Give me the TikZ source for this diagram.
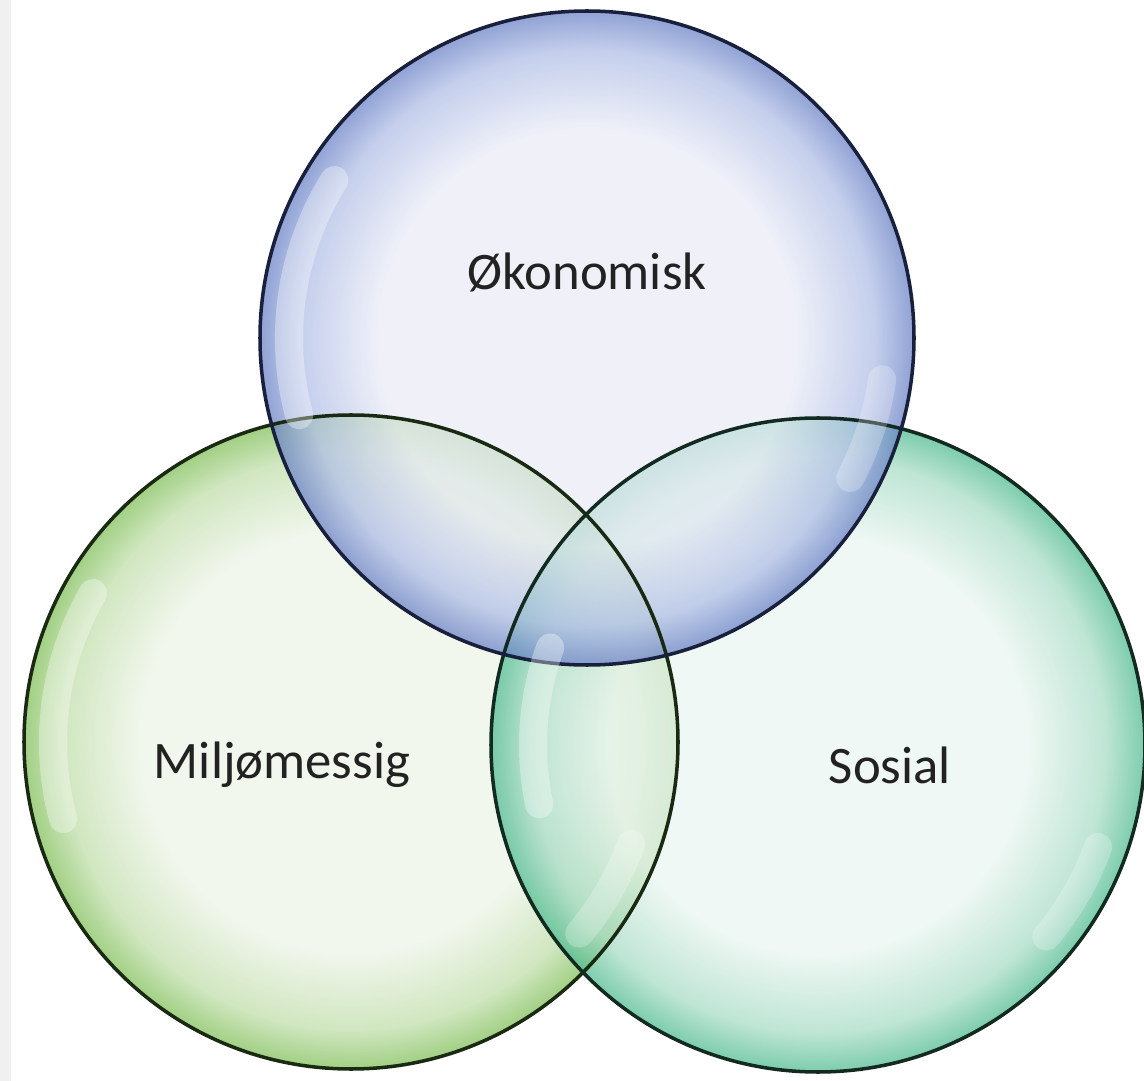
\documentclass[tikz,border=0pt]{standalone}
\usepackage{fontspec}
\setmainfont{Carlito}

\definecolor{blueIn}{HTML}{E9EBF6}
\definecolor{blueMid}{HTML}{B0BEE6}
\definecolor{blueRim}{HTML}{6A82C6}
\definecolor{blueLine}{HTML}{18203C}
\definecolor{greenIn}{HTML}{EEF4E8}
\definecolor{greenMid}{HTML}{C0DEAA}
\definecolor{greenRim}{HTML}{80BF58}
\definecolor{greenLine}{HTML}{1A2A12}
\definecolor{tealIn}{HTML}{E9F5F0}
\definecolor{tealMid}{HTML}{A8DCC6}
\definecolor{tealRim}{HTML}{4FBB90}
\definecolor{tealLine}{HTML}{122A20}
\definecolor{labelText}{HTML}{222222}

\pgfdeclareradialshading{bubbleblue}{\pgfpoint{0bp}{0bp}}{color(0bp)=(blueIn); color(16bp)=(blueIn); color(22bp)=(blueMid); color(25bp)=(blueRim); color(50bp)=(blueRim)}
\pgfdeclareradialshading{bubblegreen}{\pgfpoint{0bp}{0bp}}{color(0bp)=(greenIn); color(16bp)=(greenIn); color(22bp)=(greenMid); color(25bp)=(greenRim); color(50bp)=(greenRim)}
\pgfdeclareradialshading{bubbleteal}{\pgfpoint{0bp}{0bp}}{color(0bp)=(tealIn); color(16bp)=(tealIn); color(22bp)=(tealMid); color(25bp)=(tealRim); color(50bp)=(tealRim)}

\tikzset{
  bubble/.style={circle,inner sep=0pt,minimum size=13.08cm,fill opacity=0.74},
  rimline/.style={line width=2pt},
  gloss/.style={white,line width=16,line cap=round,opacity=0.35},
  word/.style={text=labelText,font=\fontsize{30}{36}\selectfont}
}

\begin{document}
\begin{tikzpicture}[x=0.02cm,y=-0.02cm]
\useasboundingbox (0,0) rectangle (1144,1081);
\fill[black!6] (0,0) rectangle (11,1081);

% the three bubbles
\node[bubble,shading=bubblegreen] (milj) at (351,742) {};
\node[bubble,shading=bubbleteal] (sos) at (818,745) {};
\node[bubble,shading=bubbleblue] (oko) at (587,338) {};

% outlines
\draw[rimline,greenLine] (milj.center) circle[radius=327];
\draw[rimline,tealLine] (sos.center) circle[radius=327];
\draw[rimline,blueLine] (oko.center) circle[radius=327];

% highlights
\draw[gloss] (oko.center) ++(165:298) arc[start angle=165,end angle=212,radius=298];
\draw[gloss,opacity=0.25] (oko.center) ++(8:298) arc[start angle=8,end angle=28,radius=298];
\draw[gloss] (milj.center) ++(165:298) arc[start angle=165,end angle=210,radius=298];
\draw[gloss,opacity=0.25] (milj.center) ++(20:298) arc[start angle=20,end angle=40,radius=298];
\draw[gloss] (sos.center) ++(168:285) arc[start angle=168,end angle=200,radius=285];
\draw[gloss,opacity=0.25] (sos.center) ++(20:298) arc[start angle=20,end angle=40,radius=298];

% labels
\node[word] (okotxt) at (587,272) {Økonomisk};
\node[word] (miljtxt) at (282,765) {Miljømessig};
\node[word] (sostxt) at (890,765) {Sosial};
\end{tikzpicture}
\end{document}
